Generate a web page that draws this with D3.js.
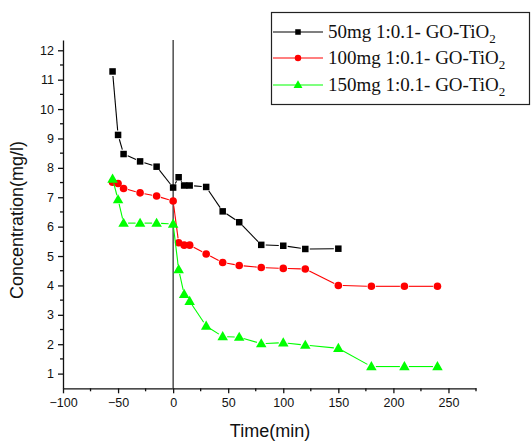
<!DOCTYPE html>
<html>
<head>
<meta charset="utf-8">
<script src="https://cdn.jsdelivr.net/npm/d3@7"></script>
<style>
  body { margin: 0; background: #fff; }
  svg { display: block; }
</style>
</head>
<body>
<svg id="chart" width="531" height="441"></svg>
<script>
// Time (min) for each series
const time50  = [-55, -50, -45, -30, -15, 0, 5, 10, 15, 30, 45, 60, 80, 100, 120, 150];
const conc50  = [11.28, 9.12, 8.47, 8.22, 8.04, 7.33, 7.68, 7.40, 7.40, 7.35, 6.52, 6.15, 5.38, 5.35, 5.24, 5.25];

const time100 = [-55, -50, -45, -30, -15, 0, 5, 10, 15, 30, 45, 60, 80, 100, 120, 150, 180, 210, 240];
const conc100 = [7.51, 7.47, 7.30, 7.15, 7.04, 6.87, 5.45, 5.37, 5.37, 5.07, 4.78, 4.68, 4.61, 4.58, 4.56, 4.00, 3.97, 3.97, 3.97];

const time150 = [-55, -50, -45, -30, -15, 0, 5, 10, 15, 30, 45, 60, 80, 100, 120, 150, 180, 210, 240];
const conc150 = [7.62, 6.92, 6.12, 6.12, 6.12, 6.09, 4.54, 3.70, 3.46, 2.62, 2.26, 2.24, 2.02, 2.05, 1.97, 1.86, 1.24, 1.24, 1.24];

const seriesNames = ["50mg 1:0.1- GO-TiO", "100mg 1:0.1- GO-TiO", "150mg 1:0.1- GO-TiO"];
const seriesColors = ["#000000", "#ff0000", "#00ff00"];
const seriesMarkers = ["square", "circle", "triangle"];

const xTicks = [-100, -50, 0, 50, 100, 150, 200, 250];
const yTicks = [1, 2, 3, 4, 5, 6, 7, 8, 9, 10, 11, 12];

const svg = d3.select("#chart");

const x = d3.scaleLinear().domain([-100, 275]).range([63, 476]);
const y = d3.scaleLinear().domain([0.5, 12.35]).range([388.3, 40]);

const axisColor = "#111";

// Bottom axis: major ticks with labels, minor ticks between
const xAxis = d3.axisBottom(x).tickValues(xTicks).tickSize(5).tickSizeOuter(0).tickFormat(d3.format("d"));
const gx = svg.append("g").attr("transform", `translate(0,${y(0.5)})`).call(xAxis);
gx.select(".domain").attr("stroke", axisColor).attr("stroke-width", 1.3);
gx.selectAll(".tick line").attr("stroke", axisColor).attr("stroke-width", 1.3);
gx.selectAll(".tick text").attr("font-family", "Liberation Sans, Arial, sans-serif").attr("font-size", 12.5).attr("fill", "#111").attr("dy", "0.85em").attr("y", 8);
const xMinor = d3.range(-75, 276, 50);
gx.selectAll(".minor").data(xMinor).enter().append("line")
  .attr("x1", d => x(d)).attr("x2", d => x(d)).attr("y1", 0).attr("y2", 3)
  .attr("stroke", axisColor).attr("stroke-width", 1.3);

// Left axis
const yAxis = d3.axisLeft(y).tickValues(yTicks).tickSize(5).tickSizeOuter(0).tickFormat(d3.format("d"));
const gy = svg.append("g").attr("transform", `translate(${x(-100)},0)`).call(yAxis);
gy.select(".domain").attr("stroke", axisColor).attr("stroke-width", 1.3);
gy.selectAll(".tick line").attr("stroke", axisColor).attr("stroke-width", 1.3);
gy.selectAll(".tick text").attr("font-family", "Liberation Sans, Arial, sans-serif").attr("font-size", 12.5).attr("fill", "#111").attr("x", -9);
const yMinor = d3.range(1.5, 12.1, 1);
gy.selectAll(".minor").data(yMinor).enter().append("line")
  .attr("x1", 0).attr("x2", -3).attr("y1", d => y(d)).attr("y2", d => y(d))
  .attr("stroke", axisColor).attr("stroke-width", 1.3);

// Vertical reference line at t = 0
svg.append("line")
  .attr("x1", x(0)).attr("x2", x(0)).attr("y1", y(12.35)).attr("y2", y(0.5))
  .attr("stroke", "#222").attr("stroke-width", 1.2);

// Axis titles
svg.append("text")
  .attr("x", 270).attr("y", 437)
  .attr("text-anchor", "middle")
  .attr("font-family", "Liberation Sans, Arial, sans-serif").attr("font-size", 18).attr("fill", "#111")
  .text("Time(min)");
svg.append("text")
  .attr("transform", "translate(23,220) rotate(-90)")
  .attr("text-anchor", "middle")
  .attr("font-family", "Liberation Sans, Arial, sans-serif").attr("font-size", 18).attr("fill", "#111")
  .text("Concentration(mg/l)");

// Marker drawing
function drawMarker(g, type, cx, cy, color, scale = 1) {
  if (type === "square") {
    const s = 6.5 * scale;
    g.append("rect").attr("x", cx - s / 2).attr("y", cy - s / 2).attr("width", s).attr("height", s).attr("fill", color);
  } else if (type === "circle") {
    g.append("circle").attr("cx", cx).attr("cy", cy).attr("r", 3.8 * scale).attr("fill", color);
  } else {
    const s = 10.5 * scale;
    const h = s * 0.866;
    g.append("path")
      .attr("d", `M${cx},${cy - h * 0.6}L${cx + s / 2},${cy + h * 0.4}L${cx - s / 2},${cy + h * 0.4}Z`)
      .attr("fill", color);
  }
}

// Line segments leave a small gap around each marker
function drawSeries(times, values, color, marker) {
  const g = svg.append("g");
  const pts = times.map((t, i) => [x(t), y(values[i])]);
  const gap = 4.5;
  for (let i = 0; i < pts.length - 1; i++) {
    const [x1, y1] = pts[i], [x2, y2] = pts[i + 1];
    const dx = x2 - x1, dy = y2 - y1;
    const len = Math.hypot(dx, dy);
    if (len <= 2 * gap) continue;
    const ux = dx / len, uy = dy / len;
    g.append("line")
      .attr("x1", x1 + ux * gap).attr("y1", y1 + uy * gap)
      .attr("x2", x2 - ux * gap).attr("y2", y2 - uy * gap)
      .attr("stroke", color).attr("stroke-width", 1.1);
  }
  pts.forEach(p => drawMarker(g, marker, p[0], p[1], color));
}

drawSeries(time50, conc50, seriesColors[0], seriesMarkers[0]);
drawSeries(time100, conc100, seriesColors[1], seriesMarkers[1]);
drawSeries(time150, conc150, seriesColors[2], seriesMarkers[2]);

// Legend
const legend = svg.append("g");
legend.append("rect")
  .attr("x", 271.5).attr("y", 12.5).attr("width", 258).attr("height", 92)
  .attr("fill", "#fff").attr("stroke", "#222").attr("stroke-width", 1.2);
const rowY = [32, 58, 85];
seriesNames.forEach((name, i) => {
  const ry = rowY[i];
  legend.append("line")
    .attr("x1", 273).attr("x2", 323).attr("y1", ry).attr("y2", ry)
    .attr("stroke", seriesColors[i]).attr("stroke-width", 1.1);
  drawMarker(legend, seriesMarkers[i], 298, ry, seriesColors[i], 0.85);
  const t = legend.append("text")
    .attr("x", 328).attr("y", ry + 6)
    .attr("font-family", "Liberation Serif, Times New Roman, serif").attr("font-size", 19).attr("fill", "#111");
  t.append("tspan").text(name);
  t.append("tspan").attr("font-size", 13).attr("dy", 5).text("2");
});
</script>
</body>
</html>
